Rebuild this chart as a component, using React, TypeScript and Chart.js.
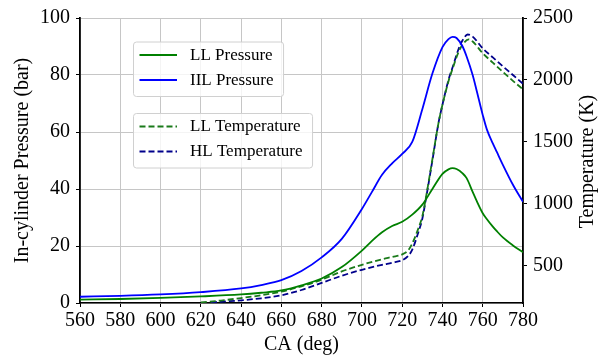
import React, { useEffect, useRef } from 'react';
import { Chart, registerables } from 'chart.js';

Chart.register(...registerables);

// ---------- data ----------
const caPressure = [560, 580, 600, 620, 640, 650, 660, 670, 680, 690, 700, 705, 710, 715, 720, 725, 730, 735, 740, 743, 745, 747, 750, 752, 755, 757, 760, 762, 765, 767, 770, 775, 780];
const llPressure = [1.2, 1.4, 1.8, 2.3, 3.0, 3.6, 4.4, 6.2, 8.6, 12.6, 18.4, 21.8, 24.8, 27.0, 28.5, 31.0, 34.5, 40.0, 45.3, 46.9, 47.3, 47.0, 45.5, 43.8, 39.0, 35.8, 31.5, 29.5, 26.8, 25.2, 23.0, 20.2, 17.8];
const hlPressure = [2.2, 2.5, 3.0, 3.8, 5.1, 6.3, 8.0, 11.2, 16.0, 22.5, 33.0, 39.0, 45.0, 49.0, 52.3, 56.5, 68.0, 80.5, 89.8, 92.6, 93.4, 93.0, 90.0, 86.5, 80.0, 74.5, 66.0, 61.0, 56.0, 53.0, 48.5, 41.5, 35.5];

const caTempLL = [620, 630, 640, 650, 660, 670, 680, 690, 700, 710, 715, 720, 723, 725, 728, 730, 732, 735, 738, 740, 743, 745, 748, 750, 753, 755, 760, 765, 770, 775, 780];
const llTemp = [205, 220, 240, 262, 292, 335, 388, 455, 508, 553, 572, 592, 625, 680, 800, 900, 1070, 1360, 1650, 1800, 1990, 2090, 2225, 2285, 2327, 2310, 2215, 2140, 2065, 1993, 1924];
const caTempHL = [625, 630, 640, 650, 660, 670, 680, 690, 700, 710, 715, 720, 723, 725, 728, 730, 732, 735, 738, 740, 743, 745, 748, 750, 752.5, 755, 760, 765, 770, 775, 780];
const hlTemp = [205, 210, 222, 238, 262, 305, 362, 420, 468, 508, 525, 545, 580, 630, 770, 880, 1060, 1350, 1650, 1800, 2000, 2100, 2250, 2320, 2367, 2350, 2255, 2182, 2110, 2040, 1969];

const seriesLabels = ['LL Pressure', 'IIL Pressure', 'LL Temperature', 'HL Temperature'];
const xTickStep = 20;
const pressureTickStep = 20;
const tempTickValues = [500, 1000, 1500, 2000, 2500];
const xTitle = 'CA (deg)';
const leftTitle = 'In-cylinder Pressure (bar)';
const rightTitle = 'Temperature (K)';

const FONT = '"Liberation Serif", serif';

const pts = (xs: number[], ys: number[]) => xs.map((x, i) => ({ x, y: ys[i] }));

const extrasPlugin = {
  id: 'extras',
  afterDraw(chart: any) {
    const { ctx, chartArea } = chart;
    const ds = chart.data.datasets;
    ctx.save();
    // right axis title (reads bottom-to-top)
    ctx.font = '20px "Liberation Serif", serif';
    ctx.fillStyle = '#000';
    ctx.textAlign = 'center';
    ctx.textBaseline = 'middle';
    ctx.translate(chartArea.right + 65, (chartArea.top + chartArea.bottom) / 2 + 1);
    ctx.rotate(-Math.PI / 2);
    ctx.fillText(rightTitle, 0, 0);
    ctx.restore();

    // two legend boxes
    const groups = [
      { idx: [0, 1], top: chartArea.top + 23.5 },
      { idx: [2, 3], top: chartArea.top + 95 },
    ];
    ctx.save();
    ctx.font = '17px "Liberation Serif", serif';
    groups.forEach((g) => {
      const boxX = chartArea.left + 53;
      const textX = chartArea.left + 110;
      const widths = g.idx.map((i) => ctx.measureText(ds[i].label).width);
      const w = textX + Math.max(...widths) + 9.5 - boxX;
      const h = 54.5;
      ctx.beginPath();
      (ctx as any).roundRect(boxX + 0.5, g.top + 0.5, w, h, 3);
      ctx.fillStyle = 'rgba(255,255,255,0.8)';
      ctx.fill();
      ctx.strokeStyle = '#d0d0d0';
      ctx.lineWidth = 1;
      ctx.stroke();
      g.idx.forEach((i, r) => {
        const y = g.top + 13.5 + r * 25;
        ctx.beginPath();
        ctx.strokeStyle = ds[i].borderColor;
        ctx.lineWidth = ds[i].borderWidth;
        ctx.setLineDash(ds[i].borderDash || []);
        ctx.moveTo(chartArea.left + 59.5, y);
        ctx.lineTo(chartArea.left + 97, y);
        ctx.stroke();
        ctx.setLineDash([]);
        ctx.fillStyle = '#000';
        ctx.textAlign = 'left';
        ctx.textBaseline = 'middle';
        ctx.fillText(ds[i].label, textX, y + 0.5);
      });
    });
    ctx.restore();
  },
};

export default function App() {
  const ref = useRef<HTMLCanvasElement | null>(null);

  useEffect(() => {
    if (!ref.current) return;
    Chart.defaults.font.family = FONT;
    Chart.defaults.font.size = 20;
    Chart.defaults.color = '#000';
    const tickFont = { family: FONT, size: 20, style: 'normal', weight: 'normal' };
    const grid = { color: '#c6c6c6', lineWidth: 1, tickColor: '#000', tickLength: 4, tickWidth: 1, z: -1 };
    const fmt = (v: any) => String(v);
    const chart = new Chart(ref.current, {
      type: 'line',
      data: {
        datasets: [
          { label: seriesLabels[0], data: pts(caPressure, llPressure), yAxisID: 'y', borderColor: '#008000', borderWidth: 1.8 },
          { label: seriesLabels[1], data: pts(caPressure, hlPressure), yAxisID: 'y', borderColor: '#0000ff', borderWidth: 1.8 },
          { label: seriesLabels[2], data: pts(caTempLL, llTemp), yAxisID: 'y2', borderColor: '#1a7a1a', borderWidth: 1.8, borderDash: [6, 3] },
          { label: seriesLabels[3], data: pts(caTempHL, hlTemp), yAxisID: 'y2', borderColor: '#00008b', borderWidth: 1.8, borderDash: [6, 3] },
        ] as any,
      },
      options: {
        animation: false,
        responsive: true,
        maintainAspectRatio: false,
        font: tickFont,
        layout: { padding: { top: 15, left: 0, right: 0, bottom: 0 } },
        elements: {
          point: { radius: 0, hoverRadius: 0 },
          line: { cubicInterpolationMode: 'monotone', fill: false },
        },
        plugins: { legend: { display: false }, tooltip: { enabled: false } },
        scales: {
          x: {
            type: 'linear',
            min: 560,
            max: 780,
            ticks: { stepSize: xTickStep, padding: 2, font: tickFont, color: '#000', autoSkip: false, maxRotation: 0, callback: fmt },
            grid,
            border: { color: '#000', width: 1.5 },
            title: { display: true, text: xTitle, color: '#000', font: tickFont, padding: { top: 0, bottom: 6 } },
            afterFit: (s: any) => { s.height = 60; },
          },
          y: {
            type: 'linear',
            position: 'left',
            min: 0,
            max: 100,
            ticks: { stepSize: pressureTickStep, padding: 6, font: tickFont, color: '#000', callback: fmt },
            grid,
            border: { color: '#000', width: 1.8 },
            title: { display: true, text: leftTitle, color: '#000', font: tickFont, padding: { top: 10.5, bottom: 0 } },
            afterFit: (s: any) => { s.width = 80; },
          },
          y2: {
            type: 'linear',
            position: 'right',
            min: 200,
            max: 2500,
            ticks: { padding: 6, font: tickFont, color: '#000', callback: fmt },
            afterBuildTicks: (s: any) => { s.ticks = tempTickValues.map((v) => ({ value: v })); },
            grid: { ...grid, drawOnChartArea: false },
            border: { color: '#000', width: 1.8 },
            afterFit: (s: any) => { s.width = 86; },
          },
        },
      } as any,
      plugins: [extrasPlugin],
    });
    return () => chart.destroy();
  }, []);

  return (
    <div style={{ position: 'absolute', left: 0, top: 0, width: 609, height: 363, background: '#fff' }}>
      <canvas ref={ref} />
    </div>
  );
}
